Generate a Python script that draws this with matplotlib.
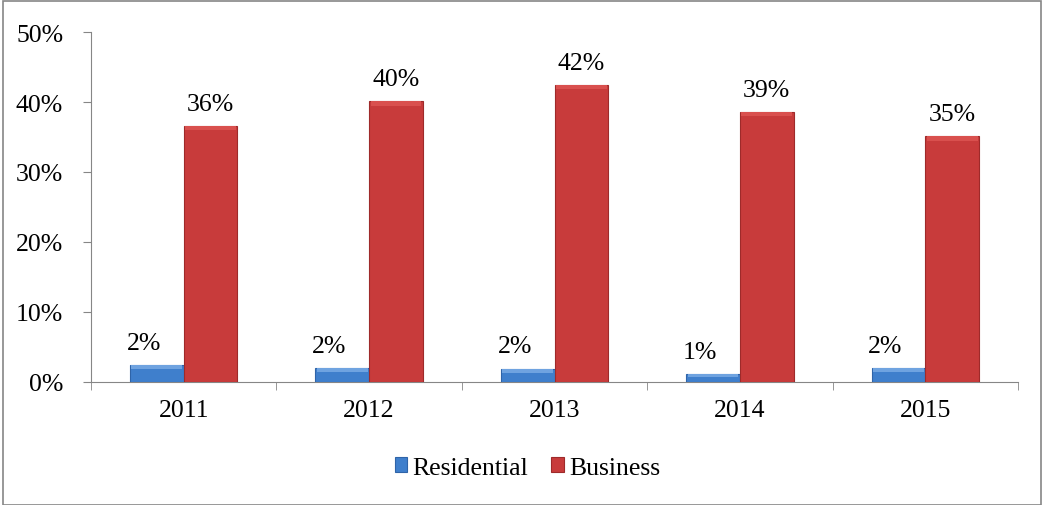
import matplotlib.pyplot as plt
import numpy as np
from matplotlib.patches import Rectangle

years = ["2011", "2012", "2013", "2014", "2015"]
residential = [2.4, 2.0, 1.9, 1.1, 2.0]
business = [36.6, 40.1, 42.4, 38.6, 35.1]
res_labels = ["2%", "2%", "2%", "1%", "2%"]
bus_labels = ["36%", "40%", "42%", "39%", "35%"]

plt.rcParams["font.family"] = ["Liberation Serif", "DejaVu Serif"]
fs = 18.5

fig = plt.figure(figsize=(10.45, 5.06), dpi=100)
ax = fig.add_axes([91 / 1045, 1 - 383 / 506, (1018 - 91) / 1045, 350 / 506])

x = np.arange(len(years))
w = 0.29
res_bars = ax.bar(x - w / 2, residential, w, color="#3f7fcc", edgecolor="#2f64a8",
                  linewidth=0.8, label="Residential", zorder=3)
bus_bars = ax.bar(x + w / 2, business, w, color="#c83b3b", edgecolor="#9e2a2a",
                  linewidth=0.8, label="Business", zorder=3)

# light bevel on top edge of each bar
for bars, col in ((res_bars, "#6fa3e0"), (bus_bars, "#d9504e")):
    for b in bars:
        h = min(0.6, b.get_height() * 0.35)
        ax.add_patch(Rectangle((b.get_x() + 0.008, b.get_height() - h), b.get_width() - 0.016, h,
                               color=col, zorder=4, lw=0))

for i in range(len(years)):
    ax.text(x[i] - w / 2 - 0.07, residential[i] + 1.6, res_labels[i], ha="center", va="bottom", fontsize=fs)
    ax.text(x[i] + w / 2, business[i] + 1.6, bus_labels[i], ha="center", va="bottom", fontsize=fs)

ax.set_xlim(-0.5, 4.5)
ax.set_ylim(0, 50)
ax.set_yticks(range(0, 51, 10))
ax.set_yticklabels([f"{v}%" for v in range(0, 51, 10)], fontsize=fs)
ax.set_xticks(x)
ax.set_xticklabels(years, fontsize=fs)
ax.set_xticks(np.arange(-0.5, 5.0, 1.0), minor=True)
ax.tick_params(axis="x", which="major", length=0, pad=12)
ax.tick_params(axis="x", which="minor", length=6, color="#868686", direction="out")
ax.tick_params(axis="y", length=6, color="#868686", direction="out", pad=14)

for s in ("top", "right"):
    ax.spines[s].set_visible(False)
for s in ("left", "bottom"):
    ax.spines[s].set_color("#868686")

ax.legend(loc="center", bbox_to_anchor=(0.471, -0.245), ncol=2, frameon=False, fontsize=fs,
          handlelength=0.5, handleheight=0.5, handletextpad=0.2, columnspacing=0.9)

fig.patches.append(Rectangle((3 / 1045, 0), 1038 / 1045, 1 - 2 / 506, transform=fig.transFigure,
                             fill=False, edgecolor="#868686", linewidth=1.2))

fig.savefig("out.png", dpi=100)
